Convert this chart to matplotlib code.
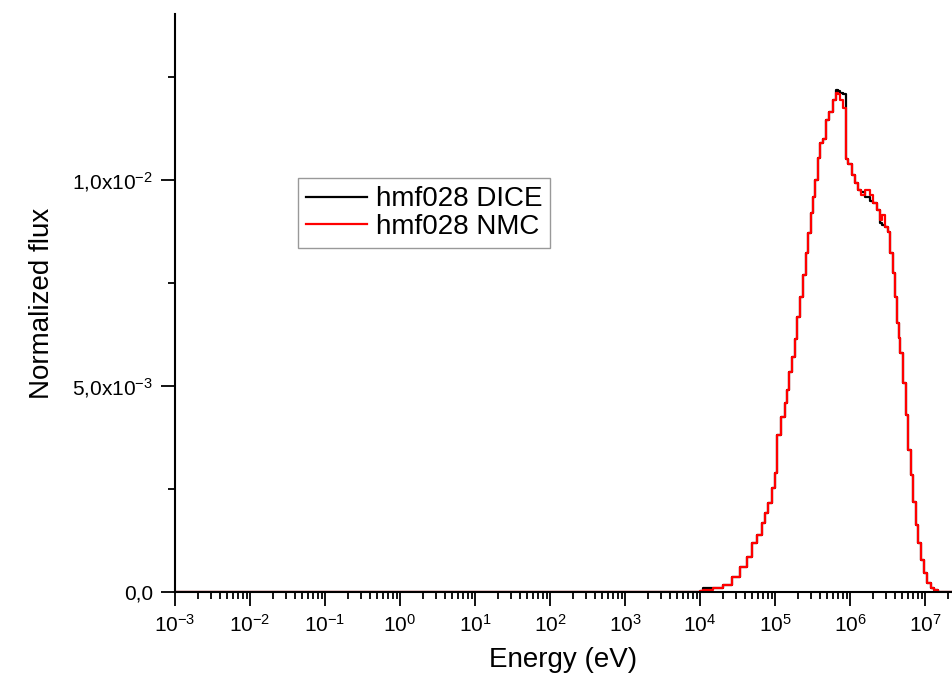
import matplotlib
matplotlib.use("Agg")
import matplotlib.pyplot as plt
from matplotlib.ticker import LogLocator, NullFormatter, FixedLocator

plt.rcParams['font.family'] = ['Liberation Sans', 'DejaVu Sans']
plt.rcParams['mathtext.fontset'] = 'custom'
plt.rcParams['mathtext.rm'] = 'Liberation Sans'
plt.rcParams['mathtext.it'] = 'Liberation Sans:italic'

# bin lower edges (eV)
energy = [1e-3, 1.0e4, 1.1e4, 1.5e4, 2.0e4, 2.7e4, 3.4e4, 4.2e4, 4.9e4, 5.8e4,
          6.7e4, 7.4e4, 8.1e4, 9.1e4, 1.0e5, 1.05e5, 1.2e5, 1.36e5, 1.45e5, 1.54e5,
          1.69e5, 1.85e5, 1.96e5, 2.15e5, 2.36e5, 2.59e5, 2.75e5, 3.02e5, 3.21e5, 3.41e5,
          3.74e5, 3.98e5, 4.37e5, 4.79e5, 5.25e5, 5.93e5, 6.5e5, 6.9e5, 7.4e5, 8.0e5,
          8.85e5, 9.5e5, 1.06e6, 1.16e6, 1.28e6, 1.4e6, 1.6e6, 1.85e6, 2.03e6, 2.27e6,
          2.51e6, 2.7e6, 2.95e6, 3.21e6, 3.41e6, 3.74e6, 3.95e6, 4.24e6, 4.45e6, 4.64e6,
          5.09e6, 5.58e6, 5.93e6, 6.5e6, 7.0e6, 7.59e6, 8.1e6, 8.85e6, 9.6e6, 1.06e7,
          1.2e7, 1.3e7, 1.5e7, 2.5e7]

flux_nmc = [0, 2e-5, 5e-5, 1.0e-4, 1.8e-4, 3.6e-4, 6.1e-4, 8.5e-4, 1.19e-3, 1.38e-3,
            1.67e-3, 1.92e-3, 2.16e-3, 2.52e-3, 2.90e-3, 3.81e-3, 4.25e-3, 4.59e-3, 4.90e-3, 5.34e-3,
            5.70e-3, 6.15e-3, 6.67e-3, 7.16e-3, 7.69e-3, 8.23e-3, 8.71e-3, 9.20e-3, 9.59e-3, 1.000e-2,
            1.053e-2, 1.090e-2, 1.100e-2, 1.146e-2, 1.165e-2, 1.194e-2, 1.211e-2, 1.210e-2, 1.194e-2, 1.175e-2,
            1.050e-2, 1.040e-2, 1.012e-2, 9.93e-3, 9.76e-3, 9.64e-3, 9.76e-3, 9.64e-3, 9.44e-3, 9.27e-3,
            9.03e-3, 9.15e-3, 8.86e-3, 8.74e-3, 8.23e-3, 7.74e-3, 7.16e-3, 6.53e-3, 6.17e-3, 5.80e-3,
            5.07e-3, 4.30e-3, 3.45e-3, 2.84e-3, 2.18e-3, 1.63e-3, 1.19e-3, 7.8e-4, 4.6e-4, 2.2e-4,
            1.0e-4, 4e-5, 0, 0]

flux_dice = [0, 2e-5, 9e-5, 1.0e-4, 1.8e-4, 3.6e-4, 6.1e-4, 8.5e-4, 1.19e-3, 1.38e-3,
             1.67e-3, 1.92e-3, 2.16e-3, 2.52e-3, 2.90e-3, 3.81e-3, 4.25e-3, 4.59e-3, 4.90e-3, 5.34e-3,
             5.70e-3, 6.15e-3, 6.67e-3, 7.16e-3, 7.69e-3, 8.23e-3, 8.71e-3, 9.20e-3, 9.59e-3, 1.000e-2,
             1.053e-2, 1.090e-2, 1.100e-2, 1.146e-2, 1.165e-2, 1.194e-2, 1.218e-2, 1.216e-2, 1.211e-2, 1.208e-2,
             1.050e-2, 1.040e-2, 1.012e-2, 9.93e-3, 9.76e-3, 9.70e-3, 9.60e-3, 9.50e-3, 9.44e-3, 9.27e-3,
             8.95e-3, 8.90e-3, 8.86e-3, 8.74e-3, 8.23e-3, 7.74e-3, 7.16e-3, 6.53e-3, 6.17e-3, 5.80e-3,
             5.07e-3, 4.30e-3, 3.45e-3, 2.84e-3, 2.18e-3, 1.63e-3, 1.19e-3, 7.8e-4, 4.6e-4, 2.2e-4,
             1.0e-4, 4e-5, 0, 0]

y_ticks = [0.0, 5e-3, 1e-2]
y_tick_labels = ['0,0', '5,0x10$^{-3}$', '1,0x10$^{-2}$']
x_ticks = [10.0 ** k for k in range(-3, 8)]
x_tick_labels = ['10$^{%d}$' % k for k in range(-3, 8)]

fig = plt.figure(figsize=(9.52, 6.87), dpi=100)
ax = fig.add_axes([0.1838, 0.1383, 0.8162, 0.8413])

ax.step(energy, flux_dice, where='post', color='black', lw=1.6, label='hmf028 DICE')
ax.step(energy, flux_nmc, where='post', color='red', lw=1.6, label='hmf028 NMC')

ax.set_xscale('log')
ax.set_xlim(1e-3, 10 ** 7.36)
ax.set_ylim(0, 0.01403)

ax.set_xticks(x_ticks)
ax.set_xticklabels(x_tick_labels)
ax.xaxis.set_minor_locator(LogLocator(base=10, subs=range(2, 10), numticks=100))
ax.xaxis.set_minor_formatter(NullFormatter())

ax.set_yticks(y_ticks)
ax.set_yticklabels(y_tick_labels)
ax.yaxis.set_minor_locator(FixedLocator([2.5e-3, 7.5e-3, 1.25e-2]))

ax.tick_params(which='major', direction='out', length=10, width=1.3, labelsize=15, pad=6)
ax.tick_params(which='minor', direction='out', length=5, width=1.3)

for s in ['top', 'right']:
    ax.spines[s].set_visible(False)
for s in ['left', 'bottom']:
    ax.spines[s].set_linewidth(1.5)

ax.set_xlabel('Energy (eV)', fontsize=20)
ax.set_ylabel('Normalized flux', fontsize=20)
ax.xaxis.set_label_coords(0.5, -0.095)
ax.yaxis.set_label_coords(-0.155, 0.5)

leg = ax.legend(loc='upper left', bbox_to_anchor=(0.158, 0.716), borderaxespad=0,
                fontsize=20, fancybox=False, handlelength=2.2, handletextpad=0.3,
                labelspacing=0.05, borderpad=0.3)
leg.get_frame().set_edgecolor('#808080')
leg.get_frame().set_linewidth(1.0)

fig.savefig('out.png', dpi=100)
